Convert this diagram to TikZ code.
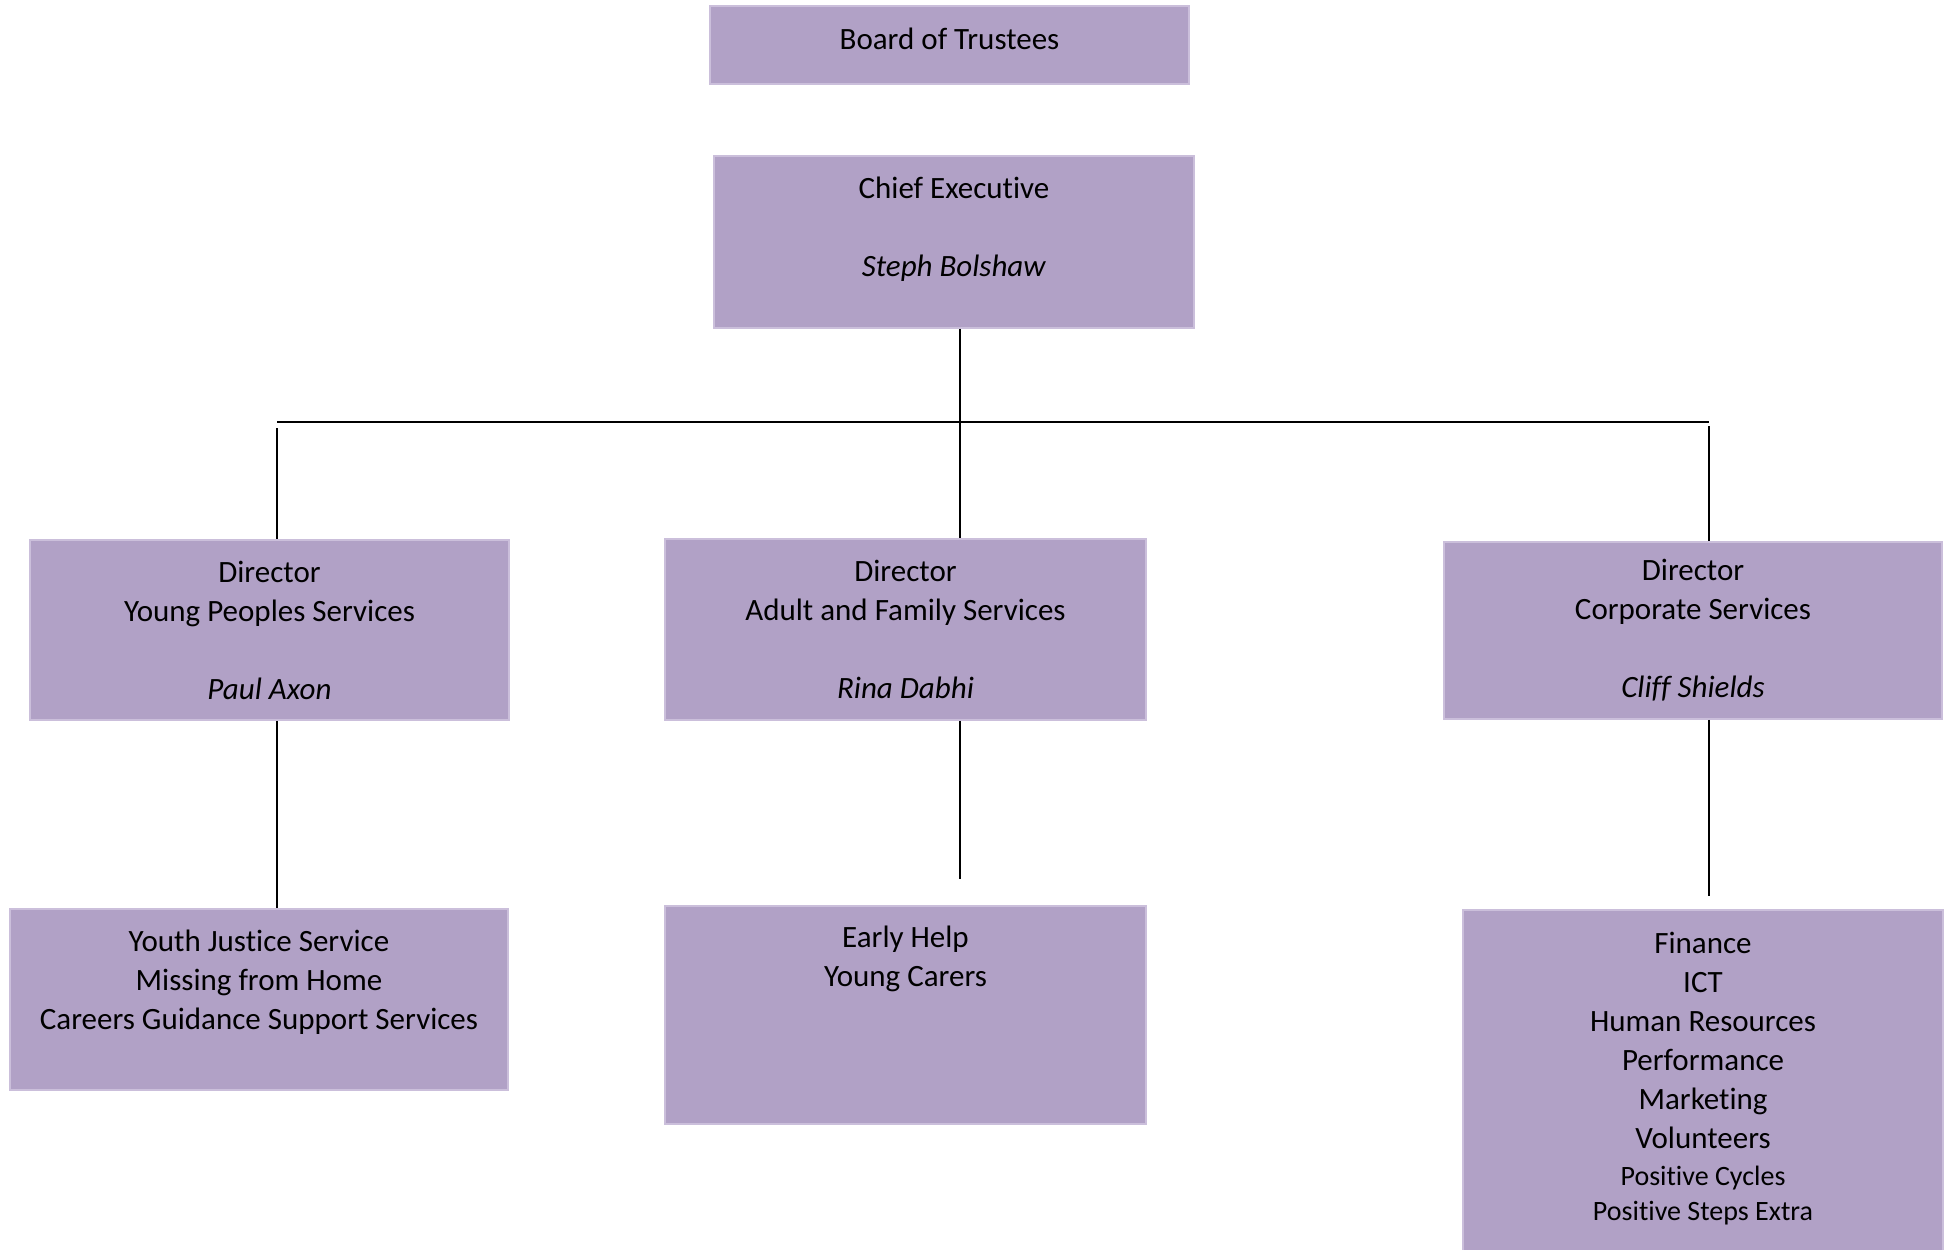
\documentclass[tikz,border=0pt]{standalone}
\usepackage{fontspec}
\setmainfont{Carlito}[Ligatures=NoCommon]
\definecolor{lilac}{HTML}{B1A1C6}
\definecolor{lilacrim}{HTML}{CBBFDB}
\newcommand{\smallline}{\fontsize{14}{17.5}\selectfont}
\begin{document}
\begin{tikzpicture}[x=0.5pt,y=-0.5pt]
      \clip (0,0) rectangle (1957,1249);
      \begin{scope}[every node/.style={rectangle,fill=lilac,draw=lilacrim,line width=0.8pt,align=center,inner sep=0pt,font=\fontsize{15.5}{19.5}\selectfont}]
        \node[minimum width=239.5pt,minimum height=39pt,text depth=6pt] (board) at (949.5,45) {Board of Trustees};
        \node[minimum width=240pt,minimum height=86pt] (chief) at (954,242) {Chief Executive\\ \\ \textit{Steph Bolshaw}\\[-4pt] \mbox{}};
        \node[minimum width=239.5pt,minimum height=90pt] (yp) at (269.5,630) {Director\\ Young Peoples Services\\ \\ \textit{Paul Axon}};
        \node[minimum width=240.5pt,minimum height=90.5pt] (af) at (905.5,629.5) {Director\\ Adult and Family Services\\ \\ \textit{Rina Dabhi}};
        \node[minimum width=249pt,minimum height=88.5pt] (cs) at (1693,630.5) {Director\\ Corporate Services\\ \\ \textit{Cliff Shields}};
        \node[minimum width=249pt,minimum height=90.5pt] (yj) at (259,999.5) {Youth Justice Service\\ Missing from Home\\ Careers Guidance Support Services\\ \mbox{}};
        \node[minimum width=240.5pt,minimum height=109pt] (eh) at (905.5,1015) {Early Help\\ Young Carers\\ \\ \\ \mbox{}};
        \node[minimum width=240pt,minimum height=172.5pt] (fin) at (1703,1082.5) {Finance\\ ICT\\ Human Resources\\ Performance\\ Marketing\\ Volunteers\\[-1pt] {\smallline Positive Cycles}\\[-2pt] {\smallline Positive Steps Extra}\\[-13.5pt] \mbox{}};
      \end{scope}
      \coordinate (hub) at (960,422);
      \coordinate (barL) at (277,422);
      \coordinate (barR) at (1709,422);
      \coordinate (ypTop) at (277,428);
      \coordinate (csTop) at (1709,426);
      \coordinate (ehEnd) at (960,879);
      \coordinate (finEnd) at (1709,896);
      \begin{scope}[every edge/.style={draw=black,line width=0.9pt}]
        \path (chief.south -| hub) edge (af.north -| hub);
        \path (barL) edge (barR);
        \path (ypTop) edge (ypTop |- yp.north);
        \path (csTop) edge (csTop |- cs.north);
        \path (yp.south -| ypTop) edge (yj.north -| ypTop);
        \path (af.south -| hub) edge (ehEnd);
        \path (cs.south -| csTop) edge (finEnd);
      \end{scope}
    \end{tikzpicture}
\end{document}
